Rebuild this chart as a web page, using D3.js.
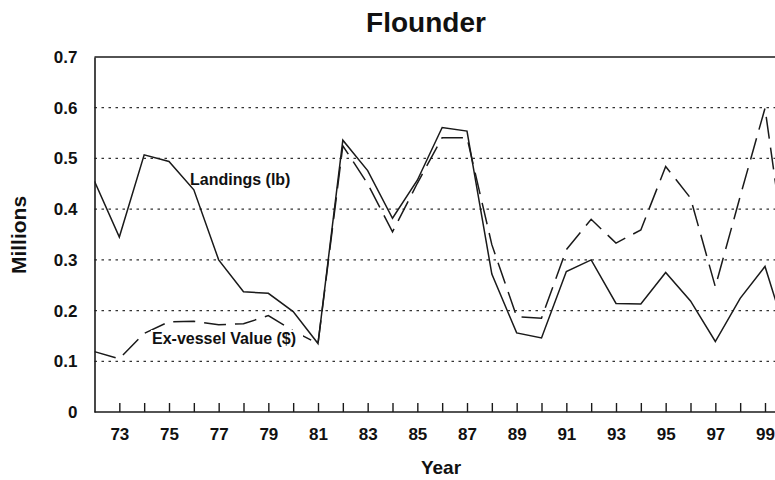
<!DOCTYPE html>
<html>
<head>
<meta charset="utf-8">
<script src="https://cdn.jsdelivr.net/npm/d3@7"></script>
<style>
  html, body { margin: 0; padding: 0; background: #fff; }
  svg { display: block; font-family: "Liberation Sans", Arial, Helvetica, sans-serif; }
</style>
</head>
<body>
<svg id="chart" width="775" height="480"></svg>
<script>
// ---- data (values in millions) ----
const years = [72,73,74,75,76,77,78,79,80,81,82,83,84,85,86,87,88,89,90,91,92,93,94,95,96,97,98,99,100];
const landings = [0.455,0.345,0.507,0.494,0.438,0.300,0.237,0.234,0.198,0.135,0.536,0.476,0.382,0.457,0.561,0.554,0.272,0.156,0.146,0.277,0.300,0.214,0.213,0.275,0.219,0.139,0.224,0.287,0.130];
const exVessel = [0.119,0.105,0.155,0.178,0.179,0.172,0.174,0.190,0.160,0.135,0.525,0.450,0.355,0.451,0.541,0.541,0.330,0.188,0.185,0.320,0.380,0.333,0.359,0.484,0.422,0.247,0.425,0.599,0.250];
const yTicks = [0,0.1,0.2,0.3,0.4,0.5,0.6,0.7];
const xTicks = [73,74,75,76,77,78,79,80,81,82,83,84,85,86,87,88,89,90,91,92,93,94,95,96,97,98,99];
const title = "Flounder";
const xLabel = "Year";
const yLabel = "Millions";
const landingsLabel = "Landings (lb)";
const valueLabel = "Ex-vessel Value ($)";

// ---- layout ----
const svg = d3.select("#chart");
const W = 775, H = 480;
const mLeft = 94.5, mTop = 57, mBottom = 412;
const x = d3.scaleLinear().domain([72, 99]).range([mLeft, 765]);
const y = d3.scaleLinear().domain([0, 0.7]).range([mBottom, mTop]);
const ink = "#1a1a1a";

// gridlines (dotted)
svg.append("g").selectAll("line")
  .data(yTicks.filter(d => d > 0 && d < 0.7))
  .join("line")
  .attr("x1", mLeft).attr("x2", W)
  .attr("y1", d => y(d)).attr("y2", d => y(d))
  .attr("stroke", "#333").attr("stroke-width", 1.2)
  .attr("stroke-dasharray", "2.5,4.5");

// top border
svg.append("line")
  .attr("x1", mLeft).attr("x2", W)
  .attr("y1", y(0.7)).attr("y2", y(0.7))
  .attr("stroke", ink).attr("stroke-width", 1.5);

// x axis
const xAxis = d3.axisBottom(x)
  .tickValues(xTicks)
  .tickSizeInner(-9).tickSizeOuter(0)
  .tickPadding(16)
  .tickFormat(d => d % 2 ? String(d) : "");
const gx = svg.append("g").attr("transform", `translate(0,${mBottom})`).call(xAxis);
gx.select(".domain").attr("d", `M${mLeft},0H${W}`).attr("stroke", ink).attr("stroke-width", 1.6);
gx.selectAll(".tick line").attr("stroke", ink).attr("stroke-width", 1.4);
gx.selectAll(".tick text")
  .attr("fill", "#111").attr("font-size", 17).attr("font-weight", "bold")
  .attr("font-family", "'Liberation Sans', Arial, sans-serif");

// y axis
const yAxis = d3.axisLeft(y)
  .tickValues(yTicks)
  .tickSize(0).tickPadding(17)
  .tickFormat(d => d === 0 ? "0" : d.toFixed(1));
const gy = svg.append("g").attr("transform", `translate(${mLeft},0)`).call(yAxis);
gy.select(".domain").attr("stroke", ink).attr("stroke-width", 1.6);
gy.selectAll(".tick text")
  .attr("fill", "#111").attr("font-size", 17).attr("font-weight", "bold")
  .attr("font-family", "'Liberation Sans', Arial, sans-serif");

// lines
const line = d3.line().x((d, i) => x(years[i])).y(d => y(d));
svg.append("clipPath").attr("id", "plotclip")
  .append("rect").attr("x", mLeft).attr("y", 0).attr("width", W - mLeft).attr("height", H);

svg.append("path").datum(landings)
  .attr("clip-path", "url(#plotclip)")
  .attr("d", line).attr("fill", "none")
  .attr("stroke", ink).attr("stroke-width", 1.5).attr("stroke-linejoin", "miter");

svg.append("path").datum(exVessel)
  .attr("clip-path", "url(#plotclip)")
  .attr("d", line).attr("fill", "none")
  .attr("stroke", ink).attr("stroke-width", 1.5)
  .attr("stroke-dasharray", "22,9");

// series labels
svg.append("text").attr("x", 190).attr("y", 185)
  .attr("font-size", 16).attr("font-weight", "bold").attr("fill", "#111")
  .text(landingsLabel);
svg.append("rect").attr("x", 151).attr("y", 330).attr("width", 152).attr("height", 18).attr("fill", "#fff");
svg.append("text").attr("x", 152).attr("y", 344)
  .attr("font-size", 16).attr("font-weight", "bold").attr("fill", "#111")
  .text(valueLabel);

// title
svg.append("text").attr("x", 426).attr("y", 32)
  .attr("text-anchor", "middle").attr("font-size", 28).attr("font-weight", "bold").attr("fill", "#111")
  .text(title);

// axis titles
svg.append("text").attr("x", 441).attr("y", 474)
  .attr("text-anchor", "middle").attr("font-size", 19).attr("font-weight", "bold").attr("fill", "#111")
  .text(xLabel);
svg.append("text")
  .attr("transform", `translate(26,235) rotate(-90)`)
  .attr("text-anchor", "middle").attr("font-size", 21).attr("font-weight", "bold").attr("fill", "#111")
  .text(yLabel);
</script>
</body>
</html>
